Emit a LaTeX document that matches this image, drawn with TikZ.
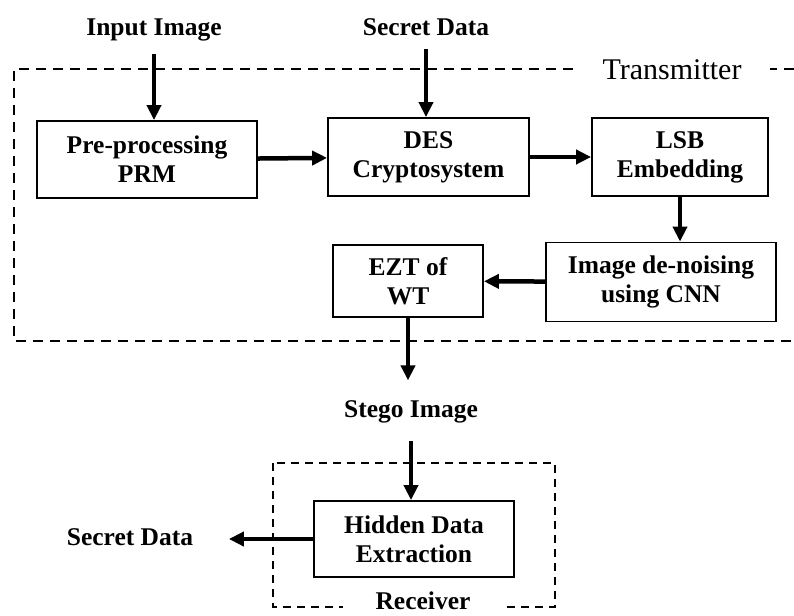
\documentclass[tikz,border=0pt]{standalone}
\usepackage{fontspec}
\setmainfont{Liberation Serif}
\usetikzlibrary{arrows.meta, positioning}

\begin{document}
\begin{tikzpicture}[x=1pt, y=-1pt, >={Triangle[length=15pt, width=14pt]}, line width=1.5pt]
    \tikzset{
        block/.style={rectangle, draw, line width=1.8pt, inner sep=0pt, align=center, font=\fontsize{25.5}{29}\selectfont\bfseries},
        tag/.style={inner sep=0pt, anchor=base, font=\fontsize{25.5}{29}\selectfont\bfseries},
        line/.style={draw, ->, line width=4.5pt},
        frame/.style={draw, dashed, line width=2.8pt, dash pattern=on 10pt off 7pt},
        rframe/.style={draw, dashed, line width=2pt, dash pattern=on 8pt off 6pt}
    }
    \useasboundingbox (0,0) rectangle (794,615);

    % Transmitter
    \coordinate (TR) at (794,69);
    \coordinate (TL) at (14,69);
    \coordinate (BL) at (14,341);
    \coordinate (BR) at (794,341);
    \path [frame] (TR) -- (TL) -- (BL) -- (BR);
    \node (Transmitter) [anchor=base, fill=white, inner xsep=29pt, inner ysep=2pt, font=\fontsize{30}{30}\selectfont] at (672,80) {Transmitter};

    \node (Input) [tag] at (154,36) {Input Image};
    \node (Secret) [tag] at (426,36) {Secret Data};

    \node (PRM) [block, minimum width=220pt, minimum height=77pt] at (147,159.5) {Pre-processing\\PRM};
    \node (DES) [block, minimum width=201pt, minimum height=78pt] at (428.5,157) {DES\\Cryptosystem};
    \node (LSB) [block, minimum width=176pt, minimum height=78pt] at (680,157) {LSB\\Embedding};
    \node (Denoise) [block, minimum width=230pt, minimum height=79pt] at (661,282) {Image de-noising\\using CNN};
    \node (EZT) [block, minimum width=150pt, minimum height=72pt] at (408,281) {EZT of\\WT};

    % Receiver
    \node (Stego) [tag] at (411,417) {Stego Image};
    \node (Hidden) [block, minimum width=200pt, minimum height=76pt] at (414,539) {Hidden Data\\Extraction};
    \node (Secret2) [tag] at (130,545) {Secret Data};
    \coordinate (RA) at (273,463);
    \coordinate (RB) at (555,607);
    \path [rframe] (RA) rectangle (RB);
    \node (Receiver) [tag, fill=white, inner xsep=33pt, inner ysep=0pt] at (423,609) {Receiver};

    \path [line, shorten <=12pt] (Input) -- (Input |- PRM.north);
    \path [line, shorten <=12pt] (Secret) -- (Secret |- DES.north);
    \path [line] (PRM) -- (DES);
    \path [line] (DES) -- (LSB);
    \path [line] (LSB) -- (LSB |- Denoise.north);
    \path [line] (Denoise) -- (EZT);
    \path [line, shorten >=19pt] (EZT.south) -- (EZT.south |- Stego.north);
    \path [line, shorten <=18pt] (Stego.south) -- (Stego.south |- Hidden.north);
    \path [line, shorten >=35pt] (Hidden) -- (Hidden -| Secret2.east);

\end{tikzpicture}
\end{document}
